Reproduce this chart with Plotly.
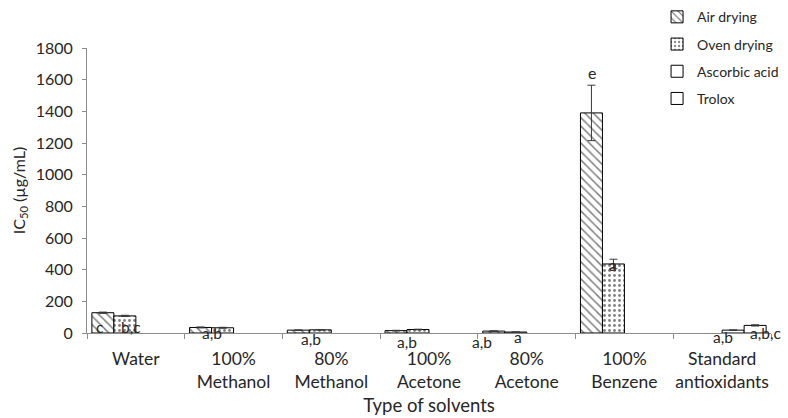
import plotly.graph_objects as go

# Solvent categories (two-line tick labels)
categories = ["Water", "100%<br>Methanol", "80%<br>Methanol", "100%<br>Acetone",
              "80%<br>Acetone", "100%<br>Benzene", "Standard<br>antioxidants"]

# IC50 values (µg/mL) per drying method / standard
air_drying = [128, 35, 18, 15, 12, 1390, None]
oven_drying = [108, 33, 20, 22, 6, 436, None]
ascorbic_acid = [None, None, None, None, None, None, 18]
trolox = [None, None, None, None, None, None, 48]

# Standard deviations
air_err = [4, 3, 2, 2, 2, 175, 0]
oven_err = [4, 3, 2, 2, 1, 30, 0]
ascorbic_err = [0, 0, 0, 0, 0, 0, 2]
trolox_err = [0, 0, 0, 0, 0, 0, 4]

# Significance letters: (category index, text, horizontal offset px, vertical offset px from zero line)
letters = [
    (0, "c", -36, 6),
    (0, "b,c", -5, 6),
    (1, "a,b", -22, 0),
    (2, "a,b", -20, -6),
    (3, "a,b", -22, -9),
    (4, "a,b", -45, -9),
    (4, "a", -9, -4),
    (5, "a", -11, 68),
    (6, "a,b", 1, -4),
    (6, "a,b,c", 43, 0),
]
top_letter = (5, "e", -32)

FONT = "Lato, 'Open Sans', sans-serif"
TXT = "#262626"
LINE = "#000000"

fig = go.Figure()

series = [
    ("Air drying", air_drying, air_err, dict(shape="\\", fgcolor="black", bgcolor="white", size=6, solidity=0.25), "g1"),
    ("Oven drying", oven_drying, oven_err, dict(shape=".", fgcolor="black", bgcolor="white", size=5, solidity=0.25), "g2"),
    ("Ascorbic acid", ascorbic_acid, ascorbic_err, None, "g3"),
    ("Trolox", trolox, trolox_err, None, "g4"),
]

for name, vals, errs, pat, grp in series:
    marker = dict(color="white", line=dict(color=LINE, width=1))
    if pat:
        marker["pattern"] = pat
    fig.add_trace(go.Bar(
        name=name, x=categories, y=vals,
        marker=marker,
        legendgroup=grp,
        error_y=dict(type="data", array=errs, visible=True, color="#3a3a3a", thickness=1, width=4),
    ))

for idx, txt, dx, dy in letters:
    fig.add_annotation(x=categories[idx], y=0, xref="x", yref="y", text=txt,
                       showarrow=False, xshift=dx, yshift=dy, yanchor="middle",
                       font=dict(family=FONT, size=15.5, color=TXT))

bi, btxt, bdx = top_letter
fig.add_annotation(x=categories[bi], y=air_drying[bi] + air_err[bi], xref="x", yref="y",
                   text=btxt, showarrow=False, xshift=bdx, yshift=1, yanchor="bottom",
                   font=dict(family=FONT, size=16, color=TXT))

fig.update_layout(
    width=788, height=418,
    margin=dict(l=87, r=17, t=48, b=85, autoexpand=False),
    paper_bgcolor="white", plot_bgcolor="white",
    barmode="group", bargap=0.1, bargroupgap=0,
    font=dict(family=FONT, size=14, color=TXT),
    showlegend=True,
    legend=dict(xref="container", yref="container", x=0.995, xanchor="right",
                y=0.997, yanchor="top",
                font=dict(family=FONT, size=14, color=TXT),
                tracegroupgap=6, bgcolor="rgba(0,0,0,0)", itemwidth=30),
)

fig.update_xaxes(
    type="category", range=[-0.5, len(categories) - 0.5],
    tickson="boundaries", ticks="outside", ticklen=5,
    tickcolor="#8c8c8c", showline=True, linecolor="#8c8c8c", linewidth=1,
    showgrid=False, tickfont=dict(family=FONT, size=17.5, color=TXT),
    tickangle=0, ticklabelstandoff=10, automargin=False,
    title=dict(text="Type of solvents", font=dict(family=FONT, size=18.5, color=TXT), standoff=8),
)
fig.update_yaxes(
    range=[0, 1800], dtick=200, showgrid=False, zeroline=False,
    showline=True, linecolor="#8c8c8c", linewidth=1, ticks="outside", ticklen=4,
    tickcolor="#8c8c8c", tickfont=dict(family=FONT, size=16, color=TXT),
    ticklabelstandoff=6, automargin=False,
    title=dict(text="IC<sub>50</sub> (µg/mL)", font=dict(family=FONT, size=16, color=TXT), standoff=6),
)

fig.write_html("out.html")
